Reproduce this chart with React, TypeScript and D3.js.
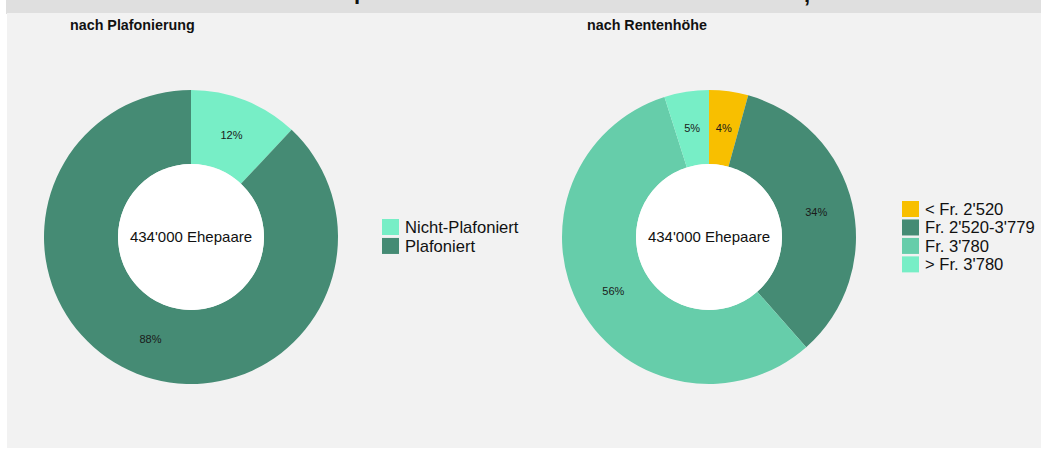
import * as d3 from 'd3'

// left donut: nach Plafonierung
const plafCategories = ['Nicht-Plafoniert', 'Plafoniert']
const plafValues = [12, 88]
const plafLabels = ['12%', '88%']
const plafColors = ['#77EEC6', '#458B74']

// right donut: nach Rentenhöhe
const renteCategories = ['< Fr. 2\'520', 'Fr. 2\'520-3\'779', 'Fr. 3\'780', '> Fr. 3\'780']
const renteValues = [4.3, 34.2, 56.6, 4.9]
const renteLabels = ['4%', '34%', '56%', '5%']
const renteColors = ['#F8BF00', '#458B74', '#66CDAA', '#77EEC6']

const centerText = '434\'000 Ehepaare'

const W = 1041
const H = 450
const outerR = 147
const innerR = 73

const Donut = ({ cx, cy, values, labels, colors }) => {
  const pie = d3.pie<number>().sort(null).value(d => d)
  const arc = d3.arc<d3.PieArcDatum<number>>().innerRadius(innerR).outerRadius(outerR)
  const arcs = pie(values)
  return (
    <g transform={`translate(${cx},${cy})`}>
      {arcs.map((a, i) => (
        <path key={i} d={arc(a) || ''} fill={colors[i]} />
      ))}
      <circle r={innerR} fill="#ffffff" />
      {arcs.map((a, i) => {
        const [x, y] = arc.centroid(a)
        return (
          <text key={'l' + i} x={x} y={y} dy="0.35em" textAnchor="middle"
            fontSize={11} fill="#1a1a1a">{labels[i]}</text>
        )
      })}
      <text x={0} y={0} dy="0.35em" textAnchor="middle" fontSize={15} fill="#111">{centerText}</text>
    </g>
  )
}

const Legend = ({ x, y, cats, colors }) => {
  const yScale = d3.scaleBand().domain(cats).range([0, cats.length * 18]).paddingInner(0.1)
  return (
    <g transform={`translate(${x},${y})`}>
      {cats.map((c, i) => (
        <g key={c} transform={`translate(0,${yScale(c)})`}>
          <rect width={17} height={16} fill={colors[i]} />
          <text x={23} y={8} dy="0.36em" fontSize={16.6} fill="#111">{c}</text>
        </g>
      ))}
    </g>
  )
}

export default function App() {
  return (
    <svg width={W} height={H} style={{ position: 'absolute', left: 0, top: 0, fontFamily: 'Arial, "Liberation Sans", sans-serif' }}>
      <rect x={0} y={0} width={W} height={H} fill="#ffffff" />
      <rect x={6} y={0} width={W - 6} height={14} fill="#dfdfdf" />
      <rect x={7} y={13} width={W - 7} height={435} fill="#f2f2f2" />
      {/* bits of the cut-off title, clipped at the top edge as in the original */}
      <text x={354} y={-1} fontSize={22} fontWeight="bold" fill="#111">p</text>
      <text x={804} y={2} fontSize={22} fontWeight="bold" fill="#111">,</text>

      <text x={70} y={30} fontSize={14.3} fontWeight="bold" fill="#111">nach Plafonierung</text>
      <text x={587} y={30} fontSize={14.3} fontWeight="bold" fill="#111">nach Rentenhöhe</text>

      <Donut cx={191} cy={237} values={plafValues} labels={plafLabels} colors={plafColors} />
      <Donut cx={709} cy={237} values={renteValues} labels={renteLabels} colors={renteColors} />

      <Legend x={382} y={219} cats={plafCategories} colors={plafColors} />
      <Legend x={902} y={201} cats={renteCategories} colors={renteColors} />
    </svg>
  )
}
